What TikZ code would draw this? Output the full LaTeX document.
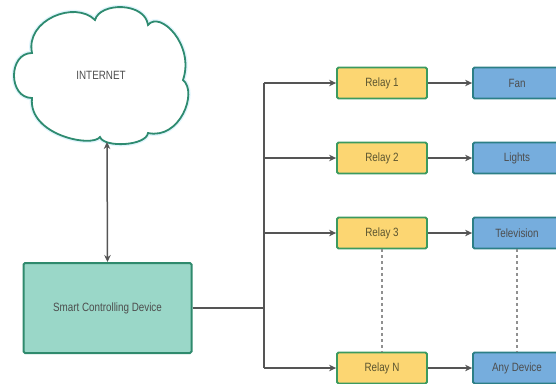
\documentclass[tikz,border=0pt]{standalone}
\usepackage{fontspec}
\setmainfont{Liberation Sans}[FakeStretch=0.82]
\usetikzlibrary{arrows.meta}
\definecolor{cloudline}{HTML}{2E8B70}
\definecolor{smartfill}{HTML}{9AD7C8}
\definecolor{smartline}{HTML}{2F8A6D}
\definecolor{relayfill}{HTML}{FCD672}
\definecolor{relayline}{HTML}{3C9A5F}
\definecolor{devfill}{HTML}{76ADDD}
\definecolor{devline}{HTML}{2C7F86}
\definecolor{wire}{HTML}{555555}
\definecolor{txt}{HTML}{4D4D4D}
\definecolor{relaytxt}{HTML}{5A5430}
\tikzset{
  lbl/.style={font=\fontsize{12}{14}\selectfont, text=txt},
  smartbox/.style={draw=smartline, fill=smartfill, line width=2pt, rounded corners=1.5pt, minimum width=168pt, minimum height=90pt, lbl},
  relaybox/.style={draw=relayline, fill=relayfill, line width=1.8pt, rounded corners=1.5pt, minimum width=90pt, minimum height=31pt, lbl, text=relaytxt},
  devbox/.style={draw=devline, fill=devfill, line width=1.8pt, rounded corners=1.5pt, minimum width=88pt, minimum height=31pt, lbl},
  wireline/.style={draw=wire, line width=1.5pt},
  arr/.style={wireline, -{Stealth[length=7pt,width=6.5pt]}},
  dual/.style={wireline, {Stealth[length=7pt,width=6.5pt]}-{Stealth[length=7pt,width=6.5pt]}},
  dashline/.style={draw=wire!65, line width=1.2pt, dash pattern=on 3pt off 3pt}
}
\begin{document}
\begin{tikzpicture}[x=1pt,y=-1pt]
\useasboundingbox (0,0) rectangle (556,383);
% cloud
\def\cloudpath{(32,53) .. controls (25,20) and (75,0) .. (95,20)
  .. controls (100,2) and (145,2) .. (148,25)
  .. controls (160,10) and (195,45) .. (183,80)
  .. controls (198,92) and (180,140) .. (148,133)
  .. controls (146,146) and (104,148) .. (100,137)
  .. controls (92,148) and (28,135) .. (32,98)
  .. controls (8,98) and (8,53) .. (32,53) -- cycle}
\draw[cyan!12, line width=4.5pt] \cloudpath;
\draw[cloudline, line width=1.8pt, fill=white] \cloudpath;
\node[lbl] (internet) at (101,75) {INTERNET};
\coordinate (cloudbot) at (107,142);
% smart device
\node[smartbox] (smart) at (107.5,308) {Smart Controlling Device};
% relays and devices
\node[relaybox] (r1) at (382,83) {Relay 1};
\node[relaybox] (r2) at (382,158) {Relay 2};
\node[relaybox] (r3) at (382,233) {Relay 3};
\node[relaybox] (rn) at (382,368) {Relay N};
\node[devbox] (d1) at (517,83) {Fan};
\node[devbox] (d2) at (517,158) {Lights};
\node[devbox] (d3) at (517,233) {Television};
\node[devbox] (dn) at (517,368) {Any Device};
% bus
\coordinate (j) at (264,308);
\coordinate (b1) at (264,83);
\coordinate (b2) at (264,158);
\coordinate (b3) at (264,233);
\coordinate (bn) at (264,368);
\draw[dual] (cloudbot) -- (smart.north);
\draw[wireline] (smart.east) -- (j);
\draw[wireline] (b1) -- (bn);
\draw[arr] (b1) -- (r1.west);
\draw[arr] (b2) -- (r2.west);
\draw[arr] (b3) -- (r3.west);
\draw[arr] (bn) -- (rn.west);
\draw[arr] (r1.east) -- (d1.west);
\draw[arr] (r2.east) -- (d2.west);
\draw[arr] (r3.east) -- (d3.west);
\draw[arr] (rn.east) -- (dn.west);
\draw[dashline] (r3.south) -- (rn.north);
\draw[dashline] (d3.south) -- (dn.north);
\end{tikzpicture}
\end{document}
